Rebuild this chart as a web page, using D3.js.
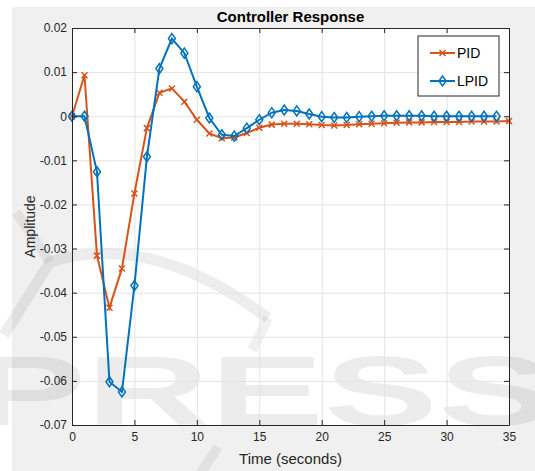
<!DOCTYPE html>
<html>
<head>
<meta charset="utf-8">
<script src="https://cdn.jsdelivr.net/npm/d3@7"></script>
<style>
    body { margin: 0; background: #fff; }
    svg { display: block; font-family: 'Liberation Sans', Arial, Helvetica, sans-serif; }
</style>
</head>
<body>
<svg id="chart-svg" width="535" height="471"></svg>
<script>
// time steps (seconds)
const time = [0, 1, 2, 3, 4, 5, 6, 7, 8, 9, 10, 11, 12, 13, 14, 15, 16, 17, 18, 19,
    20, 21, 22, 23, 24, 25, 26, 27, 28, 29, 30, 31, 32, 33, 34, 35];

const pidValues = [0, 0.0093, -0.0316, -0.0434, -0.0345, -0.0175, -0.0027, 0.0053, 0.0063, 0.0033,
    -0.0008, -0.0039, -0.0050, -0.0048, -0.0038, -0.0026, -0.0019, -0.0017, -0.0017, -0.0018,
    -0.0020, -0.0021, -0.0020, -0.0018, -0.0017, -0.0016, -0.0015, -0.0014, -0.0014, -0.0013,
    -0.0013, -0.0013, -0.0012, -0.0012, -0.0012, -0.0011];

const lpidValues = [0, 0, -0.0126, -0.0602, -0.0625, -0.0384, -0.0092, 0.0108, 0.0176, 0.0143,
    0.0067, -0.0004, -0.0042, -0.0045, -0.0027, -0.0008, 0.0008, 0.0014, 0.0012, 0.0005,
    -0.0001, -0.0003, -0.0003, -0.0001, 0.0000, 0.0001, 0.0001, 0.0001, 0.0001, 0.0000,
    0.0000, 0.0000, 0.0000, 0.0000, 0.0000];

const xTicks = [0, 5, 10, 15, 20, 25, 30, 35];
const yTicks = [0.02, 0.01, 0, -0.01, -0.02, -0.03, -0.04, -0.05, -0.06, -0.07];

const seriesNames = ['PID', 'LPID'];
const seriesColors = ['#D95319', '#0072BD'];

const margin = { left: 72, right: 26, top: 28, bottom: 46 };
const size = { width: 535, height: 471 };
const axisColor = '#262626';

const svg = d3.select('#chart-svg');

// figure background (MATLAB grey), leaves a white strip top/left
svg.append('rect')
    .attr('x', 12).attr('y', 7)
    .attr('width', size.width - 12).attr('height', size.height - 7)
    .attr('fill', '#f0f0f0');

const x = d3.scaleLinear()
    .domain([0, 35])
    .range([margin.left, size.width - margin.right]);

const y = d3.scaleLinear()
    .domain([-0.07, 0.02])
    .range([size.height - margin.bottom, margin.top]);

const plotW = x.range()[1] - x.range()[0];
const plotH = y.range()[0] - y.range()[1];

// plot area
svg.append('rect')
    .attr('x', x(0)).attr('y', y(0.02))
    .attr('width', plotW).attr('height', plotH)
    .attr('fill', '#fff');

// faint watermark from the source page
const wm = svg.append('g').attr('class', 'watermark');
wm.append('path')
    .attr('d', 'M 4 335 L 50 262 Q 150 230 268 318')
    .attr('fill', 'none')
    .attr('stroke', 'rgba(0,0,0,0.07)')
    .attr('stroke-width', 11);
wm.append('path')
    .attr('d', 'M 16 212 L 50 262 M 268 318 L 252 350 M 218 447 L 196 480')
    .attr('fill', 'none')
    .attr('stroke', 'rgba(0,0,0,0.06)')
    .attr('stroke-width', 10);
wm.append('text')
    .attr('x', -28).attr('y', 425)
    .attr('textLength', 580)
    .attr('lengthAdjust', 'spacingAndGlyphs')
    .style('font-size', '98px')
    .style('font-weight', 'bold')
    .attr('fill', 'rgba(0,0,0,0.075)')
    .text('PRESS');

// grid
svg.append('g')
    .attr('class', 'x-grid')
    .attr('transform', `translate(0,${y(-0.07)})`)
    .call(d3.axisBottom(x).tickValues(xTicks).tickSize(-plotH).tickFormat(''))
    .call(g => g.select('.domain').remove())
    .call(g => g.selectAll('line').attr('stroke', '#e3e3e3'));

svg.append('g')
    .attr('class', 'y-grid')
    .attr('transform', `translate(${x(0)},0)`)
    .call(d3.axisLeft(y).tickValues(yTicks).tickSize(-plotW).tickFormat(''))
    .call(g => g.select('.domain').remove())
    .call(g => g.selectAll('line').attr('stroke', '#e3e3e3'));

// series
const series = [
    { name: seriesNames[0], color: seriesColors[0], values: pidValues },
    { name: seriesNames[1], color: seriesColors[1], values: lpidValues }
];

const line = d3.line()
    .x(d => x(d[0]))
    .y(d => y(d[1]));

const crossPath = s => `M${-s},${-s}L${s},${s}M${-s},${s}L${s},${-s}`;
const diamondPath = (w, h) => `M0,${-h}L${w},0L0,${h}L${-w},0Z`;

function drawMarker(g, name, color) {
    if (name === 'PID') {
        g.append('path')
            .attr('d', crossPath(3))
            .attr('fill', 'none')
            .attr('stroke', color)
            .attr('stroke-width', 1.5);
    } else {
        g.append('path')
            .attr('d', diamondPath(3.5, 5))
            .attr('fill', 'none')
            .attr('stroke', color)
            .attr('stroke-width', 1.5);
    }
}

series.forEach(s => {
    const pts = s.values.map((v, i) => [time[i], v]);
    const g = svg.append('g').attr('class', 'series');
    g.append('path')
        .datum(pts)
        .attr('d', line)
        .attr('fill', 'none')
        .attr('stroke', s.color)
        .attr('stroke-width', 2);
    g.selectAll('.marker')
        .data(pts)
        .enter()
        .append('g')
        .attr('class', 'marker')
        .attr('transform', d => `translate(${x(d[0])},${y(d[1])})`)
        .each(function () { drawMarker(d3.select(this), s.name, s.color); });
});

// axes: ticks point inward on all four sides
const styleAxis = g => {
    g.select('.domain').attr('stroke', axisColor);
    g.selectAll('.tick line').attr('stroke', axisColor);
    g.selectAll('.tick text').attr('fill', axisColor).style('font-size', '12px');
};

svg.append('g')
    .attr('class', 'x-axis')
    .attr('transform', `translate(0,${y(-0.07)})`)
    .call(d3.axisBottom(x).tickValues(xTicks).tickSizeInner(-5).tickSizeOuter(0).tickPadding(7))
    .call(styleAxis);

svg.append('g')
    .attr('transform', `translate(0,${y(0.02)})`)
    .call(d3.axisTop(x).tickValues(xTicks).tickSizeInner(-5).tickSizeOuter(0).tickFormat(''))
    .call(styleAxis);

svg.append('g')
    .attr('class', 'y-axis')
    .attr('transform', `translate(${x(0)},0)`)
    .call(d3.axisLeft(y).tickValues(yTicks).tickSizeInner(-5).tickSizeOuter(0).tickPadding(5)
        .tickFormat(d => d === 0 ? '0' : d3.format('.2f')(d).replace('−', '-')))
    .call(styleAxis);

svg.append('g')
    .attr('transform', `translate(${x(35)},0)`)
    .call(d3.axisRight(y).tickValues(yTicks).tickSizeInner(-5).tickSizeOuter(0).tickFormat(''))
    .call(styleAxis);

// title and axis labels
svg.append('text')
    .attr('x', (x(0) + x(35)) / 2)
    .attr('y', 22)
    .attr('text-anchor', 'middle')
    .style('font-size', '15px')
    .style('font-weight', 'bold')
    .attr('fill', '#000')
    .text('Controller Response');

svg.append('text')
    .attr('x', (x(0) + x(35)) / 2)
    .attr('y', 464)
    .attr('text-anchor', 'middle')
    .style('font-size', '15px')
    .attr('fill', axisColor)
    .text('Time (seconds)');

svg.append('text')
    .attr('transform', `translate(35, ${(y(0.02) + y(-0.07)) / 2}) rotate(-90)`)
    .attr('text-anchor', 'middle')
    .style('font-size', '14px')
    .attr('fill', axisColor)
    .text('Amplitude');

// legend
const legend = svg.append('g')
    .attr('class', 'legend')
    .attr('transform', 'translate(418,36)');

legend.append('rect')
    .attr('width', 81).attr('height', 60)
    .attr('fill', '#fff')
    .attr('stroke', axisColor)
    .attr('stroke-width', 1);

series.forEach((s, i) => {
    const row = legend.append('g')
        .attr('transform', `translate(0,${17 + i * 28})`);
    row.append('line')
        .attr('x1', 12).attr('x2', 37)
        .attr('stroke', s.color)
        .attr('stroke-width', 2);
    drawMarker(row.append('g').attr('transform', 'translate(24.5,0)'), s.name, s.color);
    row.append('text')
        .attr('x', 39)
        .attr('dy', '0.36em')
        .style('font-size', '14px')
        .attr('fill', '#000')
        .text(s.name);
});
</script>
</body>
</html>
